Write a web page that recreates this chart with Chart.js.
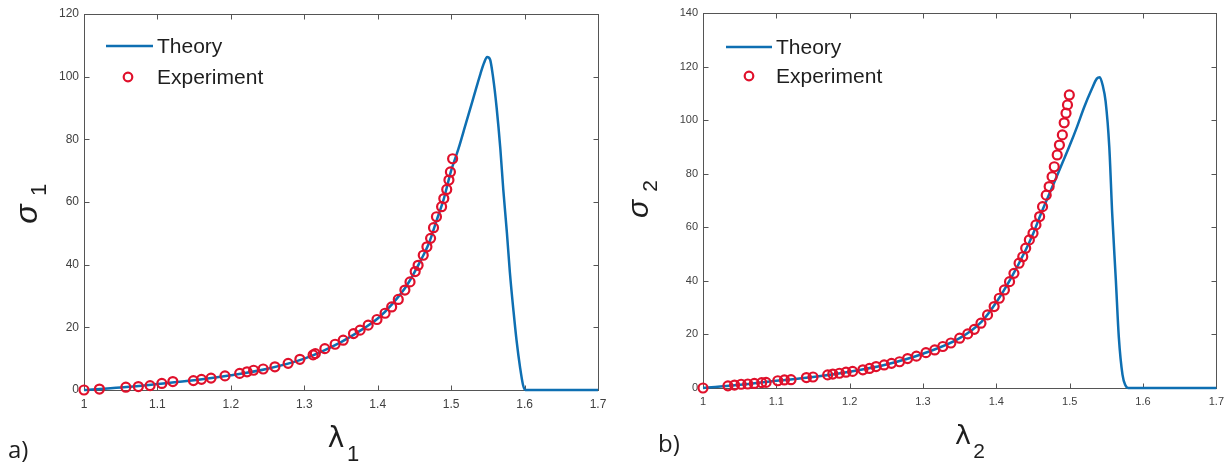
<!DOCTYPE html>
<html><head><meta charset="utf-8">
<script src="https://cdn.jsdelivr.net/npm/chart.js@4/dist/chart.umd.min.js"></script>
<style>
html,body{margin:0;padding:0;background:#fff;width:1231px;height:470px;overflow:hidden}
.box{position:absolute;top:0;height:470px}
canvas{display:block}
</style></head><body>
<div class="box" style="left:0;width:615px"><canvas id="c1" width="615" height="470" style="width:615px;height:470px"></canvas></div>
<div class="box" style="left:615px;width:616px"><canvas id="c2" width="616" height="470" style="width:616px;height:470px"></canvas></div>
<script>
// ---- tick labels ----
const xTicks = [1, 1.1, 1.2, 1.3, 1.4, 1.5, 1.6, 1.7];
const yTicksA = [0, 20, 40, 60, 80, 100, 120];
const yTicksB = [0, 20, 40, 60, 80, 100, 120, 140];

// ---- panel a) ----
const theoryA_lambda = [1.0, 1.05, 1.1, 1.15, 1.2, 1.25, 1.3, 1.35, 1.38, 1.4, 1.42, 1.44, 1.46, 1.47, 1.48, 1.49, 1.5, 1.51, 1.52, 1.53, 1.54, 1.545, 1.549, 1.553, 1.557, 1.562, 1.567, 1.571, 1.576, 1.58, 1.585, 1.589, 1.594, 1.598, 1.601, 1.7];
const theoryA_sigma  = [0, 0.8, 1.9, 3.1, 4.7, 6.8, 10.0, 15.3, 19.5, 22.8, 27.5, 33.5, 42, 47, 54, 61, 70, 77, 85, 93, 101, 104.5, 106.3, 105.5, 100, 90, 77, 64, 50, 37.5, 25, 16, 7, 1.5, 0, 0];
const expA_lambda = [1.000, 1.021, 1.057, 1.074, 1.090, 1.106, 1.121, 1.149, 1.160, 1.173, 1.192, 1.212, 1.222, 1.231, 1.244, 1.260, 1.278, 1.294, 1.312, 1.315, 1.328, 1.342, 1.353, 1.367, 1.376, 1.387, 1.399, 1.410, 1.419, 1.428, 1.437, 1.444, 1.451, 1.455, 1.462, 1.467, 1.472, 1.476, 1.480, 1.487, 1.490, 1.494, 1.497, 1.499, 1.502];
const expA_sigma  = [0, 0.3, 0.9, 1.1, 1.4, 2.1, 2.7, 3.0, 3.4, 3.8, 4.5, 5.3, 5.8, 6.3, 6.7, 7.4, 8.5, 9.8, 11.2, 11.6, 13.2, 14.6, 15.9, 18.0, 19.1, 20.7, 22.5, 24.5, 26.5, 28.9, 31.9, 34.5, 37.8, 39.8, 43.0, 45.7, 48.4, 51.8, 55.3, 58.5, 61.1, 64.0, 67.0, 69.6, 73.8];

// ---- panel b) ----
const theoryB_lambda = [1.0, 1.05, 1.1, 1.15, 1.2, 1.25, 1.3, 1.35, 1.38, 1.4, 1.42, 1.44, 1.45, 1.46, 1.47, 1.48, 1.49, 1.5, 1.51, 1.52, 1.53, 1.537, 1.541, 1.545, 1.549, 1.554, 1.558, 1.563, 1.567, 1.572, 1.576, 1.58, 1.7];
const theoryB_sigma  = [0, 1.2, 2.7, 4.1, 6.1, 8.8, 12.8, 18.6, 24.8, 32, 41, 51.5, 57.5, 64.5, 71, 77.5, 84, 90.5, 97.5, 105, 111.5, 115.5, 116, 113, 107, 90, 65, 40, 19, 5, 1, 0, 0];
const expB_lambda = [1.000, 1.034, 1.043, 1.052, 1.061, 1.070, 1.080, 1.086, 1.102, 1.111, 1.120, 1.141, 1.150, 1.170, 1.177, 1.186, 1.195, 1.204, 1.218, 1.227, 1.236, 1.247, 1.257, 1.268, 1.279, 1.291, 1.304, 1.316, 1.327, 1.338, 1.350, 1.361, 1.370, 1.379, 1.388, 1.397, 1.404, 1.411, 1.418, 1.424, 1.431, 1.436, 1.440, 1.445, 1.450, 1.454, 1.459, 1.463, 1.468, 1.472, 1.476, 1.479, 1.483, 1.486, 1.490, 1.4925, 1.495, 1.497, 1.4995];
const expB_sigma  = [0, 0.8, 1.1, 1.4, 1.5, 1.7, 2.0, 2.1, 2.7, 3.0, 3.1, 3.9, 4.1, 4.9, 5.2, 5.5, 5.9, 6.2, 6.8, 7.3, 8.0, 8.6, 9.2, 9.8, 11.0, 11.9, 13.2, 14.2, 15.5, 16.8, 18.6, 20.2, 21.9, 24.2, 27.3, 30.4, 33.5, 36.6, 39.7, 42.8, 46.6, 49.0, 52.2, 55.3, 57.8, 60.9, 64.0, 67.7, 72.0, 75.2, 78.9, 82.6, 87.0, 90.7, 94.5, 99.0, 102.6, 105.7, 109.4];

const BLUE = '#0e6fb2';
const RED = '#e0102b';
const pts = (xs, ys) => xs.map((x, i) => ({x: x, y: ys[i]}));

const framePlugin = {
  id: 'frame',
  beforeDatasetsDraw(chart) {
    const {ctx, chartArea: a, scales: {x, y}} = chart;
    ctx.save();
    ctx.strokeStyle = '#555';
    ctx.lineWidth = 1;
    const L = Math.round(a.left) + 0.5, R = Math.round(a.right) + 0.5;
    const T = Math.round(a.top) + 0.5, B = Math.round(a.bottom) + 0.5;
    ctx.strokeRect(L, T, R - L, B - T);
    ctx.beginPath();
    x.ticks.forEach(t => {
      const px = Math.round(x.getPixelForValue(t.value)) + 0.5;
      ctx.moveTo(px, B); ctx.lineTo(px, B - 5);
      ctx.moveTo(px, T); ctx.lineTo(px, T + 5);
    });
    y.ticks.forEach(t => {
      const py = Math.round(y.getPixelForValue(t.value)) + 0.5;
      ctx.moveTo(L, py); ctx.lineTo(L + 5, py);
      ctx.moveTo(R, py); ctx.lineTo(R - 5, py);
    });
    ctx.stroke();
    ctx.restore();
  },
  afterDraw(chart, args, o) {
    const ctx = chart.ctx;
    ctx.save();
    ctx.fillStyle = '#1e1e1e';
    // legend
    ctx.strokeStyle = BLUE; ctx.lineWidth = 2.5;
    ctx.beginPath(); ctx.moveTo(o.lx0, o.ly1); ctx.lineTo(o.lx1, o.ly1); ctx.stroke();
    ctx.strokeStyle = RED; ctx.lineWidth = 2.2;
    ctx.beginPath(); ctx.arc(o.mx, o.ly2, 4.3, 0, Math.PI * 2); ctx.stroke();
    ctx.font = o.legFont;
    ctx.textAlign = 'left'; ctx.textBaseline = 'middle';
    ctx.fillText(chart.data.datasets[0].label, o.tx, o.ly1 + 1);
    ctx.fillText(chart.data.datasets[1].label, o.tx, o.ly2 + 1);
    // axis titles
    ctx.textAlign = 'center'; ctx.textBaseline = 'middle';
    ctx.font = o.lamFont;
    ctx.fillText('λ', o.lam[0], o.lam[1]);
    ctx.font = o.subFont;
    ctx.fillText(o.sub, o.lamSub[0], o.lamSub[1]);
    ctx.save();
    ctx.translate(o.sig[0], o.sig[1]); ctx.rotate(-Math.PI / 2);
    ctx.font = o.sigFont; ctx.fillText('σ', 0, 0);
    ctx.restore();
    ctx.save();
    ctx.translate(o.sigSub[0], o.sigSub[1]); ctx.rotate(-Math.PI / 2);
    ctx.font = o.subFont; ctx.fillText(o.sub, 0, 0);
    ctx.restore();
    // panel label
    ctx.font = o.panFont; ctx.textAlign = 'left'; ctx.textBaseline = 'alphabetic';
    ctx.fillText(o.panel, o.pan[0], o.pan[1]);
    ctx.restore();
  }
};

function makeChart(id, tl, ts, el, es, yTicks, ymax, pad, yW, xH, tickSize, fo) {
  return new Chart(document.getElementById(id), {
    type: 'scatter',
    data: {
      datasets: [
        {label: 'Theory', data: pts(tl, ts), showLine: true, borderColor: BLUE, borderWidth: 2.5,
         pointRadius: 0, cubicInterpolationMode: 'monotone', clip: false, order: 2},
        {label: 'Experiment', data: pts(el, es), showLine: false, borderColor: RED, backgroundColor: 'rgba(0,0,0,0)',
         pointRadius: 4.5, pointBorderWidth: 2.2, pointHoverRadius: 4.5, clip: false, order: 1}
      ]
    },
    options: {
      responsive: false, animation: false, devicePixelRatio: 1,
      layout: {padding: pad},
      plugins: {legend: {display: false}, tooltip: {enabled: false}, frame: fo},
      events: [],
      scales: {
        x: {
          type: 'linear', min: 1, max: 1.7,
          afterBuildTicks: s => { s.ticks = xTicks.map(v => ({value: v})); },
          afterFit: s => { s.height = xH; },
          grid: {display: false, drawTicks: false}, border: {display: false},
          ticks: {autoSkip: false, maxRotation: 0, padding: 7, color: '#404040',
                  font: {family: 'Liberation Sans', size: tickSize}, callback: v => String(v)}
        },
        y: {
          type: 'linear', min: 0, max: ymax,
          afterBuildTicks: s => { s.ticks = yTicks.map(v => ({value: v})); },
          afterFit: s => { s.width = yW; },
          grid: {display: false, drawTicks: false}, border: {display: false},
          ticks: {autoSkip: false, padding: 5, color: '#404040',
                  font: {family: 'Liberation Sans', size: tickSize}, callback: v => String(v)}
        }
      }
    },
    plugins: [framePlugin]
  });
}

makeChart('c1', theoryA_lambda, theoryA_sigma, expA_lambda, expA_sigma, yTicksA, 120,
  {top: 14, right: 17, bottom: 0, left: 0}, 84, 80, 12,
  {lx0: 106, lx1: 153, ly1: 46, ly2: 77, mx: 128, tx: 157, legFont: '21px "Liberation Sans"',
   lam: [336, 440], lamSub: [353, 455], lamFont: '28px "DejaVu Sans"', sub: '1', subFont: '22px "Liberation Sans"',
   sig: [28, 214], sigSub: [40, 190], sigFont: 'italic 32px "Liberation Sans"',
   panel: 'a)', pan: [8, 458], panFont: '24px "Open Sans"'});

makeChart('c2', theoryB_lambda, theoryB_sigma, expB_lambda, expB_sigma, yTicksB, 140,
  {top: 13, right: 14, bottom: 0, left: 0}, 88, 82, 11,
  {lx0: 111, lx1: 157, ly1: 47, ly2: 76, mx: 134, tx: 161, legFont: '21px "Liberation Sans"',
   lam: [348, 437], lamSub: [364, 452], lamFont: '27px "DejaVu Sans"', sub: '2', subFont: '21px "Liberation Sans"',
   sig: [25, 209], sigSub: [36, 186], sigFont: 'italic 30px "Liberation Sans"',
   panel: 'b)', pan: [43, 452], panFont: '24px "Open Sans"'});
</script>
</body></html>
